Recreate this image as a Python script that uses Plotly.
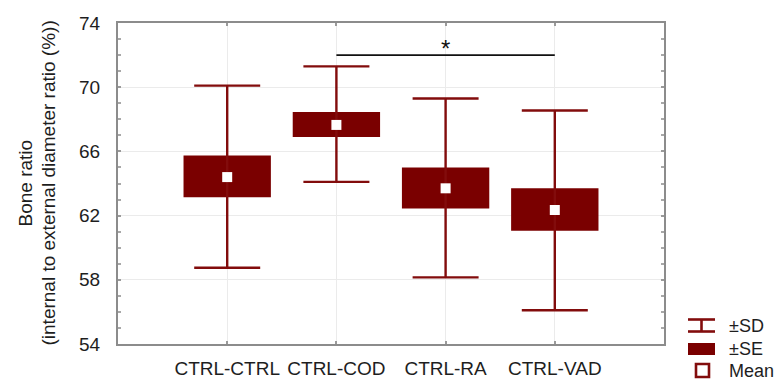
import plotly.graph_objects as go

categories = ["CTRL-CTRL", "CTRL-COD", "CTRL-RA", "CTRL-VAD"]
mean_vals = [64.4, 67.65, 63.7, 62.35]
se_low = [63.15, 66.9, 62.45, 61.05]
se_high = [65.75, 68.45, 65.0, 63.7]
sd_low = [58.75, 64.1, 58.15, 56.1]
sd_high = [70.1, 71.3, 69.3, 68.55]
y_ticks = [54, 58, 62, 66, 70, 74]
sig_pair = ["CTRL-COD", "CTRL-VAD"]
sig_level = 72.0
sig_label = "*"

BOX = "#7a0000"
WHISK = "#820c0c"
FONT = "Liberation Sans, Arial, sans-serif"
TXT = "#1e1e1e"

fig = go.Figure()

# ±SE boxes
fig.add_trace(go.Bar(
    x=categories, y=[h - l for h, l in zip(se_high, se_low)], base=se_low,
    width=0.8, marker=dict(color=BOX, line=dict(width=0)),
    showlegend=False, hoverinfo="skip"))

# means with ±SD whiskers
fig.add_trace(go.Scatter(
    x=categories, y=mean_vals, mode="markers",
    marker=dict(symbol="square", size=10, color="white", line=dict(width=0)),
    error_y=dict(type="data", symmetric=False,
                 array=[h - m for h, m in zip(sd_high, mean_vals)],
                 arrayminus=[m - l for m, l in zip(mean_vals, sd_low)],
                 color=WHISK, thickness=2.4, width=33),
    showlegend=False, hoverinfo="skip"))

# significance bar
i0, i1 = categories.index(sig_pair[0]), categories.index(sig_pair[1])
fig.add_shape(type="line", xref="x", yref="y", x0=i0, x1=i1, y0=sig_level, y1=sig_level,
              line=dict(color="#111111", width=1.6))
fig.add_annotation(x=(i0 + i1) / 2, y=sig_level, xref="x", yref="y", text=sig_label,
                   showarrow=False, yanchor="middle", yshift=7,
                   font=dict(family=FONT, size=24, color="#111111"))

# custom legend (pixel -> paper); plot area spans x 118..664, y 23..344
L, R, T, B = 118, 664, 23, 344
def px(x):
    return (x - L) / (R - L)
def py(y):
    return (B - y) / (B - T)

fig.add_shape(type="line", xref="paper", yref="paper", x0=px(688), x1=px(715), y0=py(319.5), y1=py(319.5),
              line=dict(color=WHISK, width=2.6))
fig.add_shape(type="line", xref="paper", yref="paper", x0=px(688), x1=px(715), y0=py(331.5), y1=py(331.5),
              line=dict(color=WHISK, width=2.6))
fig.add_shape(type="line", xref="paper", yref="paper", x0=px(701.5), x1=px(701.5), y0=py(319.5), y1=py(331.5),
              line=dict(color=WHISK, width=2.6))
fig.add_shape(type="rect", xref="paper", yref="paper", x0=px(688), x1=px(715), y0=py(355), y1=py(343),
              fillcolor=BOX, line=dict(width=0))
fig.add_shape(type="rect", xref="paper", yref="paper", x0=px(696), x1=px(709), y0=py(377), y1=py(364),
              fillcolor="white", line=dict(color=WHISK, width=2.6))
for label, yc in [("±SD", 325.5), ("±SE", 348.5), ("Mean", 371)]:
    fig.add_annotation(xref="paper", yref="paper", x=px(727), y=py(yc), text=label,
                       showarrow=False, xanchor="left", yanchor="middle",
                       font=dict(family=FONT, size=18, color=TXT))

# y-axis title (two lines)
fig.add_annotation(xref="paper", yref="paper", x=px(25), y=0.5, text="Bone ratio",
                   textangle=-90, showarrow=False, xanchor="center", yanchor="middle",
                   font=dict(family=FONT, size=19, color=TXT))
fig.add_annotation(xref="paper", yref="paper", x=px(48), y=0.5,
                   text="(internal to external diameter ratio (%))",
                   textangle=-90, showarrow=False, xanchor="center", yanchor="middle",
                   font=dict(family=FONT, size=19, color=TXT))

fig.update_layout(
    width=776, height=383,
    margin=dict(l=118, r=112, t=23, b=39),
    paper_bgcolor="white", plot_bgcolor="white",
    font=dict(family=FONT, size=19, color=TXT),
    barmode="overlay",
    showlegend=False,
)
fig.update_xaxes(
    type="category", categoryorder="array", categoryarray=categories,
    range=[-1, len(categories)], automargin=False,
    showgrid=True, gridcolor="#ebebeb", gridwidth=1,
    showline=True, linecolor="#8c8c8c", linewidth=2, mirror="ticks",
    ticks="inside", ticklen=3, tickcolor="#9a9a9a", tickwidth=1.5,
    tickfont=dict(family=FONT, size=19, color=TXT),
    ticklabelstandoff=6,
    zeroline=False,
)
fig.update_yaxes(
    range=[54, 74], tickvals=y_ticks, ticktext=[str(v) for v in y_ticks],
    automargin=False,
    showgrid=True, gridcolor="#ebebeb", gridwidth=1,
    showline=True, linecolor="#8c8c8c", linewidth=2, mirror="ticks",
    ticks="inside", ticklen=3, tickcolor="#9a9a9a", tickwidth=1.5,
    minor=dict(dtick=1, ticks="inside", ticklen=3, tickcolor="#a8a8a8", showgrid=False),
    tickfont=dict(family=FONT, size=19, color=TXT),
    ticklabelstandoff=12,
    zeroline=False,
)

# remove the browser's default 8px body margin so the figure sits at the page origin
fig.write_html("out.html", config={"displayModeBar": False},
               post_script="document.body.style.margin='0';document.body.style.overflow='hidden';")
